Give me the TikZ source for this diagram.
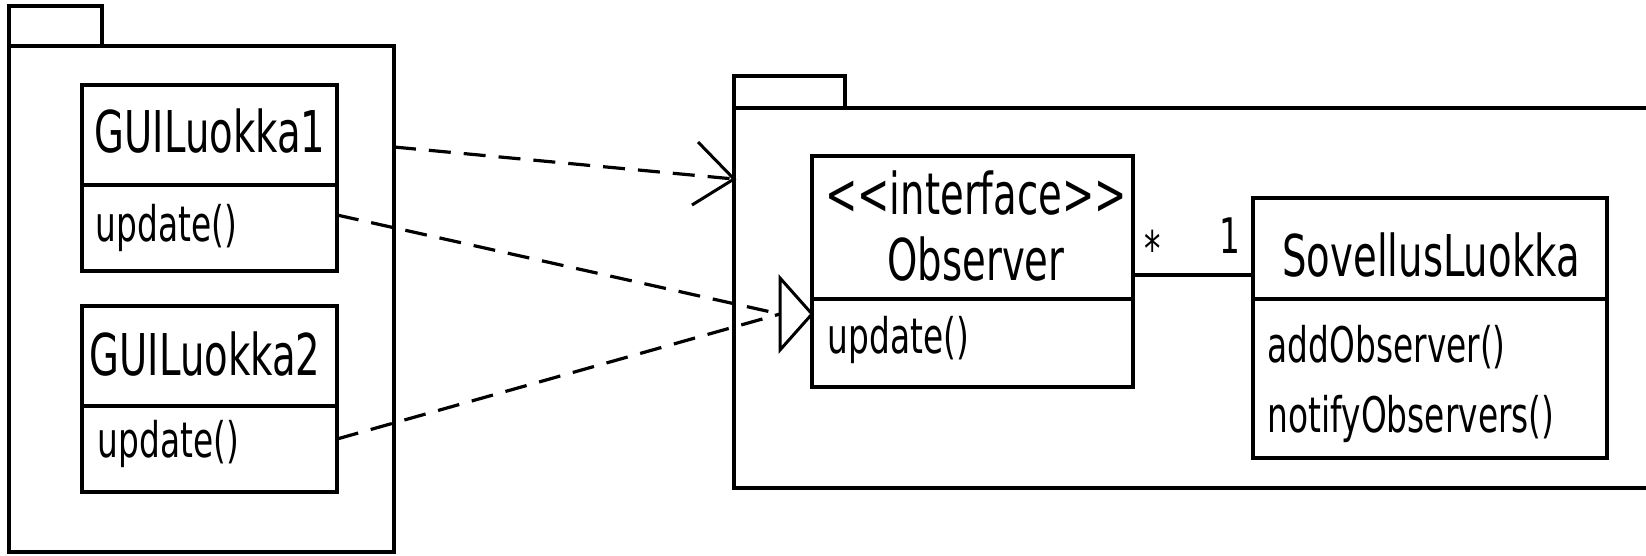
\documentclass[tikz,border=0pt]{standalone}
\usepackage{fontspec}
\setmainfont{DejaVu Sans}[FakeStretch=0.67]
\newcommand\namesize{\fontsize{57.6}{60}\selectfont}
\newcommand\opsize{\fontsize{49}{52}\selectfont}

\begin{document}
\begin{tikzpicture}[x=1pt,y=-1pt,line width=3.5pt,
  box/.style={draw,rectangle,inner sep=0pt,outer sep=0pt},
  cname/.style={inner sep=0pt,anchor=base,font=\namesize},
  op/.style={inner sep=0pt,anchor=base west,font=\opsize},
  mult/.style={inner sep=0pt,anchor=base,font=\opsize},
  dep/.style={line width=3.2pt,dash pattern=on 22pt off 13pt},
  solidline/.style={solid,line width=3pt,line join=miter}]
\useasboundingbox (0,0) rectangle (1646,555);
\clip (0,0) rectangle (1646,555);

% ---- GUI package -------------------------------------------------
\node[box,minimum width=93pt,minimum height=40pt]  (pkgLtab) at (55.5,26) {};
\node[box,minimum width=385pt,minimum height=506pt] (pkgL)   at (201.5,299) {};

\node[box,minimum width=255pt,minimum height=100pt] (g1n) at (209.5,135) {};
\node[box,minimum width=255pt,minimum height=86pt]  (g1o) at (209.5,228) {};
\node[cname] (g1name) at (210,152) {GUILuokka1};
\node[op]    (g1op)   at (94,241)  {update()};

\node[box,minimum width=255pt,minimum height=100pt] (g2n) at (209.5,356) {};
\node[box,minimum width=255pt,minimum height=86pt]  (g2o) at (209.5,449) {};
\node[cname] (g2name) at (205,375) {GUILuokka2};
\node[op]    (g2op)   at (96,457)  {update()};

% ---- application package -----------------------------------------
\node[box,minimum width=111pt,minimum height=32pt]  (pkgRtab) at (789.5,92) {};
\node[box,minimum width=966pt,minimum height=380pt] (pkgR)    at (1217,298) {};

\node[box,minimum width=321pt,minimum height=143pt] (obsN) at (972.5,227.5) {};
\node[box,minimum width=321pt,minimum height=88pt]  (obsO) at (972.5,343) {};
\node[cname] (obsst)   at (976,214) {<\kern0pt<interface>\kern0pt>};
\node[cname] (obsname) at (976,280) {Observer};
\node[op]    (obsop)   at (826,353) {update()};

\node[box,minimum width=354pt,minimum height=101pt] (sovN) at (1430,248.5) {};
\node[box,minimum width=354pt,minimum height=159pt] (sovO) at (1430,378.5) {};
\node[cname] (sovname) at (1431,276) {SovellusLuokka};
\node[op]    (sovop1)  at (1266,362) {addObserver()};
\node[op]    (sovop2)  at (1266,432) {notifyObservers()};

% ---- association Observer * -- 1 SovellusLuokka ------------------
\path ([yshift=-47.5pt]obsN.east) coordinate (aL);
\draw (aL) -- (aL -| sovN.west);
\node[mult] (mstar) at (1153,266) {*};
\node[mult] (mone)  at (1230,253) {1};

% ---- package dependency ------------------------------------------
\coordinate (d1s) at (394,147);
\coordinate (d1e) at (734,179);
\draw[dep] (d1s) -- (d1e);
\draw[solidline] ([shift={(-36,-37)}]d1e) -- (d1e) -- ([shift={(-42,26)}]d1e);

% ---- realizations of Observer ------------------------------------
\coordinate (r1s) at (337,215);
\coordinate (r2s) at (337,439);
\coordinate (rb)  at (780,314);
\draw[dep] (r1s) -- (rb);
\draw[dep] (r2s) -- (rb);
\draw[solidline] ([yshift=36pt]rb) -- (rb -| obsO.west) -- ([yshift=-36pt]rb) -- cycle;
\end{tikzpicture}
\end{document}
